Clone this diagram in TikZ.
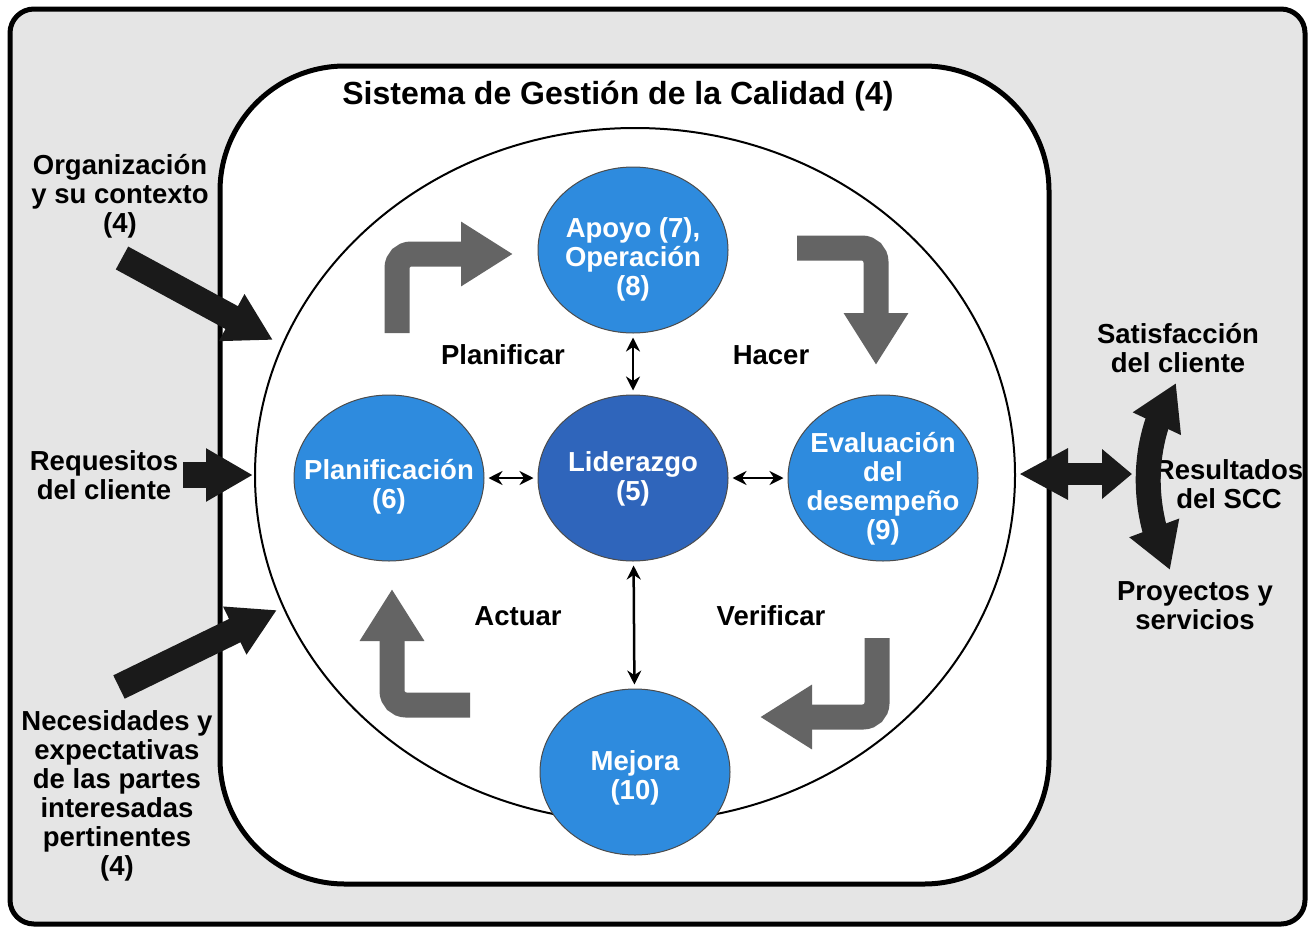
\documentclass[tikz,border=0pt]{standalone}
\usepackage{fontspec}
\setmainfont{Liberation Sans}
\usetikzlibrary{arrows.meta,positioning,shapes.geometric,bending}
\definecolor{bggray}{HTML}{E5E5E5}
\definecolor{cycgray}{HTML}{646464}
\definecolor{procblue}{HTML}{2E8BDE}
\definecolor{leadblue}{HTML}{2F65BB}
\definecolor{inkblack}{HTML}{1A1A1A}

\begin{document}
\begin{tikzpicture}[
  x=1pt, y=-1pt,
  every node/.style={font=\bfseries\fontsize{27.5}{29}\selectfont, align=center},
  proc/.style={ellipse,draw=black!70,line width=1pt,fill=procblue,minimum width=190pt,minimum height=166pt,inner sep=0pt},
  inlbl/.style={text=white,yshift=-#1},
  biarr/.style={{Stealth[length=14pt,width=14pt]}-{Stealth[length=14pt,width=14pt]},line width=2.5pt,shorten <=4pt,shorten >=4pt},
  cycarr/.style={draw=cycgray,line width=25pt,rounded corners=14pt,-{Triangle[length=52pt,width=61pt]}},
  inarr/.style={draw=inkblack,line width=26pt,-{Triangle[length=47pt,width=50pt]}},
  outarr/.style={draw=inkblack,line width=#1}
]
\useasboundingbox (0,0) rectangle (1314,929);

% frames
\draw[line width=5pt,fill=bggray,rounded corners=24pt] (10,9) rectangle (1305,924);
\draw[line width=5pt,fill=white,rounded corners=125pt] (220,66) rectangle (1049,884);
\draw[line width=2pt] (635,475) ellipse [x radius=380pt, y radius=347pt];
\node (sgc) at (618,96) {\fontsize{32}{34}\selectfont Sistema de Gestión de la Calidad (4)};

% PHVA cycle
\draw[cycarr] (397,333) |- (513,254);
\draw[cycarr] (797,248) -| (876,365);
\draw[cycarr] (877,638) |- (760,717);
\draw[cycarr] (470,705) -| (392,589);
\node (plf) at (503,355) {Planificar};
\node (hac) at (771,355) {Hacer};
\node (act) at (518,616) {Actuar};
\node (ver) at (771,616) {Verificar};

% processes
\node[proc,label={[inlbl=9pt]center:{Apoyo (7),\\Operación\\(8)}}] (apo) at (633,250) {};
\node[proc,fill=leadblue,label={[inlbl=1pt]center:{Liderazgo\\(5)}}] (lid) at (633,478) {};
\node[proc,label={[inlbl=9pt]center:{Planificación\\(6)}}] (plan) at (389,478) {};
\node[proc,label={[inlbl=11pt]center:{Evaluación\\del\\desempeño\\(9)}}] (eval) at (883,478) {};
\node[proc,label={[inlbl=6pt]center:{Mejora\\(10)}}] (mej) at (635,772) {};
\draw[biarr] (lid) -- (apo);
\draw[biarr] (lid) -- (plan);
\draw[biarr] (lid) -- (eval);
\draw[biarr] (lid) -- (mej);

% inputs
\node (org) at (120,196) {Organización\\y su contexto\\(4)};
\node (req) at (104,475) {Requesitos\\del cliente};
\node (nec) at (117,796) {Necesidades y\\expectativas\\de las partes\\interesadas\\pertinentes\\(4)};
\coordinate (orgtail) at (122,258);
\coordinate (orgtip) at (273,340);
\coordinate (reqtail) at (183,475);
\coordinate (reqtip) at (253,475);
\coordinate (nectail) at (119,687);
\coordinate (nectip) at (277,610);
\draw[inarr] (orgtail) -- (orgtip);
\draw[inarr] (reqtail) -- (reqtip);
\draw[inarr] (nectail) -- (nectip);

% outputs
\node (sat) at (1178,348) {Satisfacción\\del cliente};
\node (res) at (1229,484) {Resultados\\del SCC};
\node (pro) at (1195,606) {Proyectos y\\servicios};
\coordinate (outL) at (1019,474);
\coordinate (outR) at (1132,474);
\coordinate (sattip) at (1176,383);
\coordinate (protip) at (1170,570);
\draw[outarr=22pt,{Triangle[length=30pt,width=48pt]}-{Triangle[length=49pt,width=48pt]}] (outR) -- (outL);
\draw[outarr=25pt,{Triangle[length=45pt,width=50pt]}-{Triangle[length=45pt,width=50pt]}] (sattip) .. controls (1140,440) and (1140,510) .. (protip);
\end{tikzpicture}
\end{document}
